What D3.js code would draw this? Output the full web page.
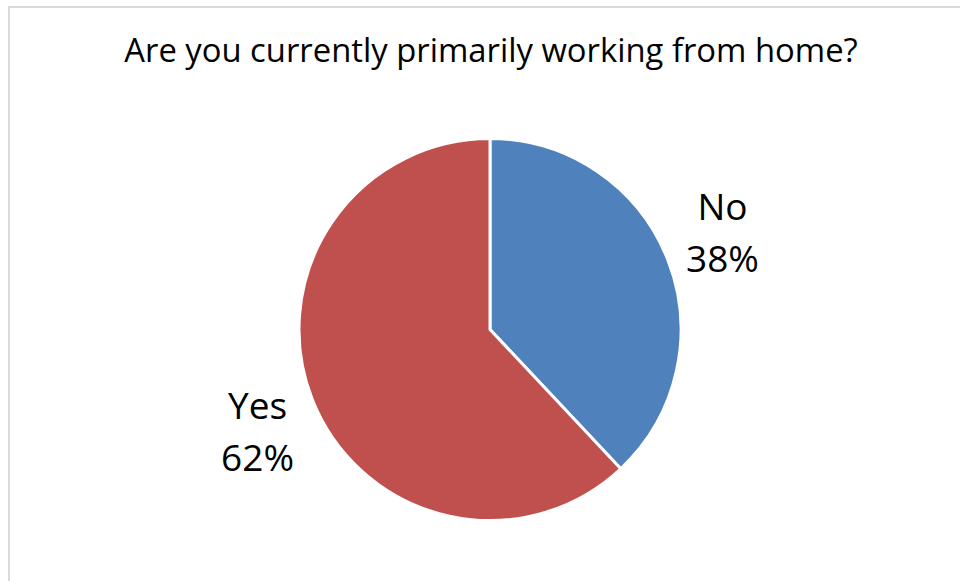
<!DOCTYPE html>
<html>
<head>
<meta charset="utf-8">
<script src="https://cdn.jsdelivr.net/npm/d3@7"></script>
<style>
  body { margin: 0; background: #fff; }
  text { font-family: "Open Sans", "Noto Sans", sans-serif; fill: #000; }
</style>
</head>
<body>
<div id="chart"></div>
<script>
const categories = ["No", "Yes"];
const values = [38, 62];
const colors = ["#4f81bd", "#c0504d"];
const title = "Are you currently primarily working from home?";

const width = 960, height = 581;
const svg = d3.select("#chart").append("svg")
  .attr("width", width)
  .attr("height", height);

// chart area border (only left/top visible in the crop)
svg.append("rect")
  .attr("x", 9).attr("y", 7)
  .attr("width", 980).attr("height", 600)
  .attr("fill", "none")
  .attr("stroke", "#d9d9d9")
  .attr("stroke-width", 2);

svg.append("text")
  .attr("x", 491)
  .attr("y", 62)
  .attr("text-anchor", "middle")
  .attr("font-size", "32.8px")
  .text(title);

const cx = 490, cy = 329.5, r = 191;
const data = categories.map((c, i) => ({ cat: c, value: values[i], color: colors[i] }));

const pie = d3.pie().sort(null).value(d => d.value);
const arc = d3.arc().innerRadius(0).outerRadius(r);

const g = svg.append("g").attr("transform", `translate(${cx},${cy})`);
g.selectAll("path")
  .data(pie(data))
  .enter()
  .append("path")
  .attr("d", arc)
  .attr("fill", d => d.data.color)
  .attr("stroke", "#fff")
  .attr("stroke-width", 3)
  .attr("stroke-linejoin", "round");

// labels outside the pie
const labelArc = d3.arc().innerRadius(r + 59).outerRadius(r + 59);
const labels = g.selectAll(".lbl")
  .data(pie(data))
  .enter()
  .append("text")
  .attr("class", "lbl")
  .attr("text-anchor", "middle")
  .attr("font-size", "37px")
  .attr("transform", d => {
    const [x, y] = labelArc.centroid(d);
    const shift = -10 + 7.5 * Math.sign(y);
    return `translate(${x},${y + shift})`;
  });
labels.append("tspan").attr("x", 0).attr("y", 0).text(d => d.data.cat);
labels.append("tspan").attr("x", 0).attr("y", 52)
  .text(d => d.data.value + "%");
</script>
</body>
</html>
